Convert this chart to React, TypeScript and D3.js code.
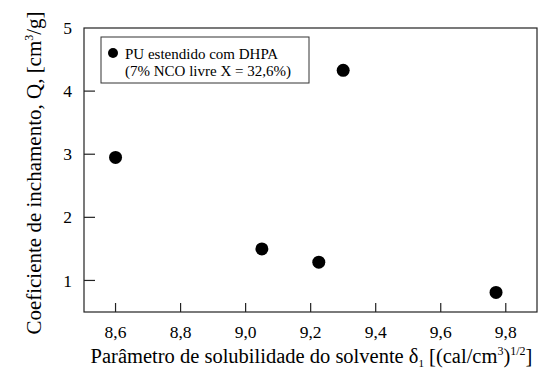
import React, {useEffect, useRef} from 'react';
import * as d3 from 'd3';

// solubility parameter of the solvent vs swelling coefficient
const solubility = [8.6, 9.05, 9.225, 9.3, 9.77]
const swelling = [2.95, 1.5, 1.29, 4.33, 0.81]
const xTicks = [8.6, 8.8, 9.0, 9.2, 9.4, 9.6, 9.8]
const yTicks = [1, 2, 3, 4, 5]
const legendLines = ['PU estendido com DHPA', '(7% NCO livre X = 32,6%)']

const font = "'Liberation Serif', 'Times New Roman', serif"

const App = () => {

    const svgRef = useRef<SVGSVGElement>(null);

    const dimensions = {
        width: 545,
        height: 375,
        margin: {top: 28, right: 8, bottom: 63, left: 84}
    }
    const boundedWidth = dimensions.width - dimensions.margin.left - dimensions.margin.right
    const boundedHeight = dimensions.height - dimensions.margin.top - dimensions.margin.bottom

    useEffect(() => {
        const wrapper = d3.select(svgRef.current)
        wrapper.selectAll('*').remove()

        const bounds = wrapper.append('g')
            .attr('transform', `translate(${dimensions.margin.left},${dimensions.margin.top})`)

        const xScale = d3.scaleLinear().domain([8.503, 9.896]).range([0, boundedWidth])
        const yScale = d3.scaleLinear().domain([0.5, 5]).range([boundedHeight, 0])

        // frame
        bounds.append('rect')
            .attr('width', boundedWidth)
            .attr('height', boundedHeight)
            .attr('fill', 'none')
            .attr('stroke', '#222')
            .attr('stroke-width', 1.2)

        // x ticks (inward)
        bounds.selectAll('.xtick')
            .data(xTicks)
            .join('line')
            .attr('x1', d => xScale(d))
            .attr('x2', d => xScale(d))
            .attr('y1', boundedHeight)
            .attr('y2', boundedHeight - 9)
            .attr('stroke', '#222')
            .attr('stroke-width', 1.2)

        bounds.selectAll('.xlabel')
            .data(xTicks)
            .join('text')
            .attr('x', d => xScale(d))
            .attr('y', boundedHeight + 26)
            .attr('text-anchor', 'middle')
            .attr('font-family', font)
            .attr('font-size', 17.5)
            .text(d => d3.format('.1f')(d).replace('.', ','))

        // y ticks (inward)
        bounds.selectAll('.ytick')
            .data(yTicks.filter(d => d < 5))
            .join('line')
            .attr('x1', 0)
            .attr('x2', 11)
            .attr('y1', d => yScale(d))
            .attr('y2', d => yScale(d))
            .attr('stroke', '#222')
            .attr('stroke-width', 1.2)

        bounds.selectAll('.ylabel')
            .data(yTicks)
            .join('text')
            .attr('x', -12)
            .attr('y', d => yScale(d))
            .attr('dy', '0.35em')
            .attr('text-anchor', 'end')
            .attr('font-family', font)
            .attr('font-size', 17.5)
            .text(d => d)

        // points
        bounds.selectAll('circle.pt')
            .data(solubility.map((x, i) => ({x, y: swelling[i]})))
            .join('circle')
            .attr('cx', d => xScale(d.x))
            .attr('cy', d => yScale(d.y))
            .attr('r', 6.5)
            .attr('fill', '#000')

        // legend
        const legend = bounds.append('g').attr('transform', 'translate(17,9)')
        legend.append('rect')
            .attr('width', 208)
            .attr('height', 46)
            .attr('fill', '#fff')
            .attr('stroke', '#333')
            .attr('stroke-width', 1)
        legend.append('circle')
            .attr('cx', 12)
            .attr('cy', 16)
            .attr('r', 5)
            .attr('fill', '#000')
        legend.selectAll('text')
            .data(legendLines)
            .join('text')
            .attr('x', 24)
            .attr('y', (d, i) => 22 + i * 16.5)
            .attr('font-family', font)
            .attr('font-size', 15)
            .text(d => d)

        // x axis title
        const xTitle = wrapper.append('text')
            .attr('x', 311.5)
            .attr('y', 363)
            .attr('text-anchor', 'middle')
            .attr('font-family', font)
            .attr('font-size', 20.5)
        xTitle.append('tspan').text('Parâmetro de solubilidade do solvente δ')
        xTitle.append('tspan').attr('dy', 4).attr('font-size', 11).text('1')
        xTitle.append('tspan').attr('dy', -4).text(' [(cal/cm')
        xTitle.append('tspan').attr('dy', -8).attr('font-size', 12).text('3')
        xTitle.append('tspan').attr('dy', 8).text(')')
        xTitle.append('tspan').attr('dy', -8).attr('font-size', 12).text('1/2')
        xTitle.append('tspan').attr('dy', 8).text(']')

        // y axis title
        const yTitle = wrapper.append('text')
            .attr('transform', 'translate(41,173) rotate(-90)')
            .attr('text-anchor', 'middle')
            .attr('font-family', font)
            .attr('font-size', 21)
        yTitle.append('tspan').text('Coeficiente de inchamento, Q, [cm')
        yTitle.append('tspan').attr('dy', -8).attr('font-size', 12).text('3')
        yTitle.append('tspan').attr('dy', 8).text('/g]')
    }, [])

    return (
        <svg ref={svgRef} width={dimensions.width} height={dimensions.height}
             style={{position: 'absolute', left: 0, top: 0, background: '#fff'}}/>
    );
}

export default App;
